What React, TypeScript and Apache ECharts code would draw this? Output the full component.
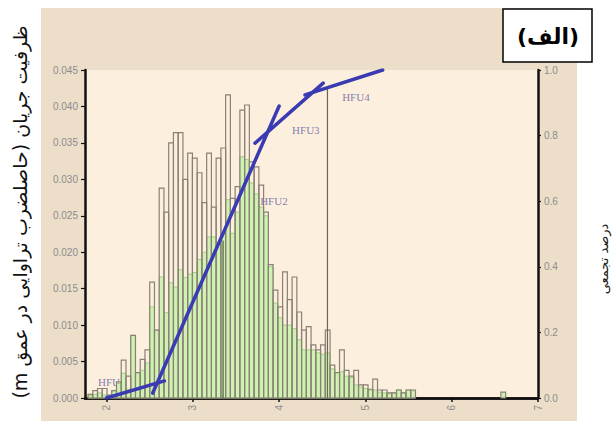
import React, { useEffect, useRef } from "react";
import * as echarts from "echarts";

// Histogram bins (bin start + width)
const BIN_START = 1.785;
const BIN_WIDTH = 0.055;

// Green (filled) histogram
const GREEN_VALUES = [
  0.0003, 0.0005, 0.0007, 0.0004, 0.0003, 0.0010, 0.0020, 0.0034, 0.0012, 0.0086,
  0.0034, 0.0038, 0.0048, 0.0125, 0.0093, 0.0166, 0.0117, 0.0158, 0.0152, 0.0176,
  0.0165, 0.0170, 0.0172, 0.0190, 0.0200, 0.0221, 0.0221, 0.0212, 0.0225, 0.0272,
  0.0226, 0.0255, 0.0331, 0.0327, 0.0295, 0.0280, 0.0262, 0.0250, 0.0180, 0.0130,
  0.0110, 0.0100, 0.0100, 0.0095, 0.0080, 0.0066, 0.0066, 0.0066, 0.0062, 0.0060,
  0.0062, 0.0040, 0.0034, 0.0036, 0.0030, 0.0028, 0.0018, 0.0015, 0.0013, 0.0011,
  0.0011, 0.0008, 0.0007, 0.0006, 0.0007, 0.0011, 0.0007, 0.0011, 0.0010,
];

// Outlined (unfilled) histogram
const OUTLINE_VALUES = [
  0.0005, 0.0010, 0.0013, 0.0013, 0.0004, 0.0010, 0.0022, 0.0052, 0.0030, 0.0086,
  0.0035, 0.0053, 0.0066, 0.0159, 0.0093, 0.0288, 0.0255, 0.0350, 0.0364, 0.0364,
  0.0300, 0.0336, 0.0329, 0.0309, 0.0268, 0.0336, 0.0262, 0.0329, 0.0343, 0.0416,
  0.0274, 0.0290, 0.0395, 0.0402, 0.0324, 0.0317, 0.0292, 0.0255, 0.0183, 0.0148,
  0.0125, 0.0173, 0.0135, 0.0166, 0.0118, 0.0093, 0.0098, 0.0073, 0.0066, 0.0073,
  0.0093, 0.0045, 0.0035, 0.0066, 0.0038, 0.0030, 0.0038, 0.0018, 0.0018, 0.0012,
  0.0026, 0.0011, 0.0011, 0.0007, 0.0007, 0.0011, 0.0007, 0.0011, 0.0011,
];

// isolated outlier bin
const OUTLIER_X = [6.57];
const OUTLIER_VALUES = [0.0008];

// cumulative fit segments (x, cumulative fraction)
const SEG_HFU1 = [[2.0, 0.0], [2.67, 0.052]];
const SEG_HFU2 = [[2.535, 0.015], [4.0, 0.89]];
const SEG_HFU3 = [[3.72, 0.777], [4.51, 0.96]];
const SEG_HFU4 = [[4.3, 0.924], [5.2, 1.0]];

// boundaries between units
const CUT_X = [3.35, 4.56];
const CUT_TOP = [0.48, 0.95];

// unit labels
const HFU_NAMES = ["HFU1", "HFU2", "HFU3", "HFU4"];
const HFU_X = [1.9, 3.78, 4.15, 4.73];
const HFU_Y = [0.05, 0.6, 0.817, 0.918];

const X_TICKS = [2, 3, 4, 5, 6, 7];

const LEFT_TITLE = "ظرفیت جریان (حاصلضرب تراوایی در عمق m)";
const RIGHT_TITLE = "درصد تجمعی";
const PANEL_TAG = "(الف)";

// right-to-left embedding so the mixed text keeps its Persian order
const RLE = "\u202B";
const PDF = "\u202C";

function makeRender(fill: string, stroke: string, lw: number) {
  return (params: any, api: any) => {
    const x0 = api.value(0);
    const v = api.value(1);
    const a = api.coord([x0, 0]);
    const b = api.coord([x0 + BIN_WIDTH, v]);
    return {
      type: "rect",
      shape: { x: a[0], y: b[1], width: b[0] - a[0], height: a[1] - b[1] },
      style: { fill, stroke, lineWidth: lw },
    };
  };
}

export default function App() {
  const ref = useRef<HTMLDivElement>(null);
  useEffect(() => {
    document.body.style.margin = "0";
    const chart = echarts.init(ref.current!, null, { renderer: "svg" });
    const greenData = GREEN_VALUES.map((v, i) => [BIN_START + i * BIN_WIDTH, v]);
    const outlineData = OUTLINE_VALUES.map((v, i) => [BIN_START + i * BIN_WIDTH, v]);
    const outlierData = OUTLIER_X.map((x, i) => [x, OUTLIER_VALUES[i]]);
    const axisLabelStyle = { color: "#8c8c8c", fontSize: 10, fontFamily: "Liberation Sans" };
    const blackLine = { lineStyle: { color: "#111", width: 2.5 } };
    const segStyle = { color: "#3a3ab2", width: 3.5, cap: "round" };
    const segSeries = [SEG_HFU1, SEG_HFU2, SEG_HFU3, SEG_HFU4].map((seg) => ({
      type: "line",
      xAxisIndex: 0,
      yAxisIndex: 1,
      data: seg,
      symbol: "none",
      lineStyle: segStyle,
      z: 10,
      silent: true,
    }));
    const cutColors = ["#4d5a3c", "#6e6458"];
    const cutSeries = CUT_X.map((x, i) => ({
      type: "line",
      xAxisIndex: 0,
      yAxisIndex: 1,
      data: [[x, 0], [x, CUT_TOP[i]]],
      symbol: "none",
      lineStyle: { color: cutColors[i], width: 1.2 },
      z: 6,
      silent: true,
    }));
    chart.setOption({
      animation: false,
      grid: {
        left: 85,
        right: 76,
        top: 70,
        bottom: 23,
        show: true,
        backgroundColor: "#fdefdd",
        borderWidth: 0,
      },
      xAxis: [
        {
          type: "value",
          min: 1.75,
          max: 7,
          position: "bottom",
          axisLine: blackLine,
          axisTick: { customValues: X_TICKS, length: 4, lineStyle: { color: "#111", width: 1.5 } },
          axisLabel: { ...axisLabelStyle, customValues: X_TICKS, rotate: 90, margin: 7 },
          splitLine: { show: false },
        },
        {
          type: "value",
          min: 1.75,
          max: 7,
          position: "top",
          axisLine: blackLine,
          axisTick: { show: false },
          axisLabel: { show: false },
          splitLine: { show: false },
        },
      ],
      yAxis: [
        {
          type: "value",
          min: 0,
          max: 0.045,
          interval: 0.005,
          position: "left",
          axisLine: { show: true, ...blackLine },
          axisTick: { show: true, length: 4, lineStyle: { color: "#111", width: 1.2 } },
          axisLabel: { ...axisLabelStyle, margin: 7, formatter: (v: number) => v.toFixed(3) },
          splitLine: { show: false },
        },
        {
          type: "value",
          min: 0,
          max: 1,
          interval: 0.2,
          position: "right",
          axisLine: { show: true, ...blackLine },
          axisTick: { show: true, length: 3, lineStyle: { color: "#111", width: 1.2 } },
          axisLabel: { ...axisLabelStyle, margin: 6, formatter: (v: number) => v.toFixed(1) },
          splitLine: { show: false },
        },
      ],
      graphic: [
        {
          type: "rect",
          z: -100,
          shape: { x: 41, y: 8, width: 536, height: 413 },
          style: { fill: "#ecdec9" },
          silent: true,
        },
        {
          type: "text",
          x: 20,
          y: 212,
          rotation: Math.PI / 2,
          style: {
            text: RLE + LEFT_TITLE + PDF,
            fill: "#111",
            font: "19px 'DejaVu Sans'",
            align: "center",
            verticalAlign: "middle",
          },
        },
        {
          type: "text",
          x: 603,
          y: 259,
          rotation: Math.PI / 2,
          style: {
            text: RIGHT_TITLE,
            fill: "#1a1a1a",
            font: "13px 'DejaVu Sans'",
            align: "center",
            verticalAlign: "middle",
          },
        },
        {
          type: "rect",
          z: 100,
          shape: { x: 503, y: 9, width: 89, height: 53 },
          style: { fill: "#ffffff", stroke: "#000", lineWidth: 1.5 },
        },
        {
          type: "text",
          z: 101,
          x: 548,
          y: 36,
          style: {
            text: PANEL_TAG,
            fill: "#000",
            font: "bold 22px 'DejaVu Sans'",
            align: "center",
            verticalAlign: "middle",
          },
        },
      ],
      series: [
        {
          type: "scatter",
          xAxisIndex: 0,
          yAxisIndex: 1,
          z: 1,
          symbolSize: 0,
          data: HFU_NAMES.map((n, i) => [HFU_X[i], HFU_Y[i], n]),
          label: {
            show: true,
            position: "right",
            distance: 0,
            formatter: (p: any) => p.value[2],
            color: "#5e5ea2",
            fontSize: 11,
            fontFamily: "Liberation Serif",
          },
          silent: true,
        },
        {
          type: "custom",
          xAxisIndex: 0,
          yAxisIndex: 0,
          z: 2,
          renderItem: makeRender("#cff2b2", "#9dd27c", 1),
          encode: { x: 0, y: 1 },
          data: greenData,
          silent: true,
        },
        {
          type: "custom",
          xAxisIndex: 0,
          yAxisIndex: 0,
          z: 3,
          renderItem: makeRender("none", "#8b8078", 1.2),
          encode: { x: 0, y: 1 },
          data: outlineData,
          silent: true,
        },
        {
          type: "custom",
          xAxisIndex: 0,
          yAxisIndex: 0,
          z: 3,
          renderItem: makeRender("#cff2b2", "#8b8078", 1.2),
          encode: { x: 0, y: 1 },
          data: outlierData,
          silent: true,
        },
        ...cutSeries,
        ...segSeries,
      ],
    });
    return () => chart.dispose();
  }, []);
  return <div ref={ref} style={{ width: 614, height: 421 }} />;
}
